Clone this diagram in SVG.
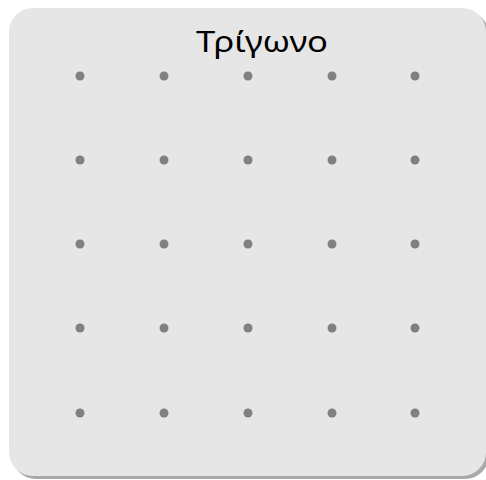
<svg xmlns="http://www.w3.org/2000/svg" width="486" height="480" viewBox="0 0 486 480">
<style>
.dot{fill:#808080}
.title{font-family:"Noto Sans","Open Sans",sans-serif;font-size:29px;fill:#000}
</style>
<g id="board">
<rect x="12" y="11" width="477" height="468" rx="24" fill="#a9a9a9"/>
<rect x="9" y="8" width="477" height="468" rx="24" fill="#e6e6e6"/>
<text class="title" x="196" y="51.5" textLength="132" lengthAdjust="spacingAndGlyphs">Τρίγωνο</text>
</g>
<g id="dots">
<circle class="dot" cx="80" cy="76" r="4.5"/><circle class="dot" cx="164" cy="76" r="4.5"/><circle class="dot" cx="248" cy="76" r="4.5"/><circle class="dot" cx="332" cy="76" r="4.5"/><circle class="dot" cx="415" cy="76" r="4.5"/>
<circle class="dot" cx="80" cy="160" r="4.5"/><circle class="dot" cx="164" cy="160" r="4.5"/><circle class="dot" cx="248" cy="160" r="4.5"/><circle class="dot" cx="332" cy="160" r="4.5"/><circle class="dot" cx="415" cy="160" r="4.5"/>
<circle class="dot" cx="80" cy="244" r="4.5"/><circle class="dot" cx="164" cy="244" r="4.5"/><circle class="dot" cx="248" cy="244" r="4.5"/><circle class="dot" cx="332" cy="244" r="4.5"/><circle class="dot" cx="415" cy="244" r="4.5"/>
<circle class="dot" cx="80" cy="328" r="4.5"/><circle class="dot" cx="164" cy="328" r="4.5"/><circle class="dot" cx="248" cy="328" r="4.5"/><circle class="dot" cx="332" cy="328" r="4.5"/><circle class="dot" cx="415" cy="328" r="4.5"/>
<circle class="dot" cx="80" cy="413" r="4.5"/><circle class="dot" cx="164" cy="413" r="4.5"/><circle class="dot" cx="248" cy="413" r="4.5"/><circle class="dot" cx="332" cy="413" r="4.5"/><circle class="dot" cx="415" cy="413" r="4.5"/>
</g>
</svg>
